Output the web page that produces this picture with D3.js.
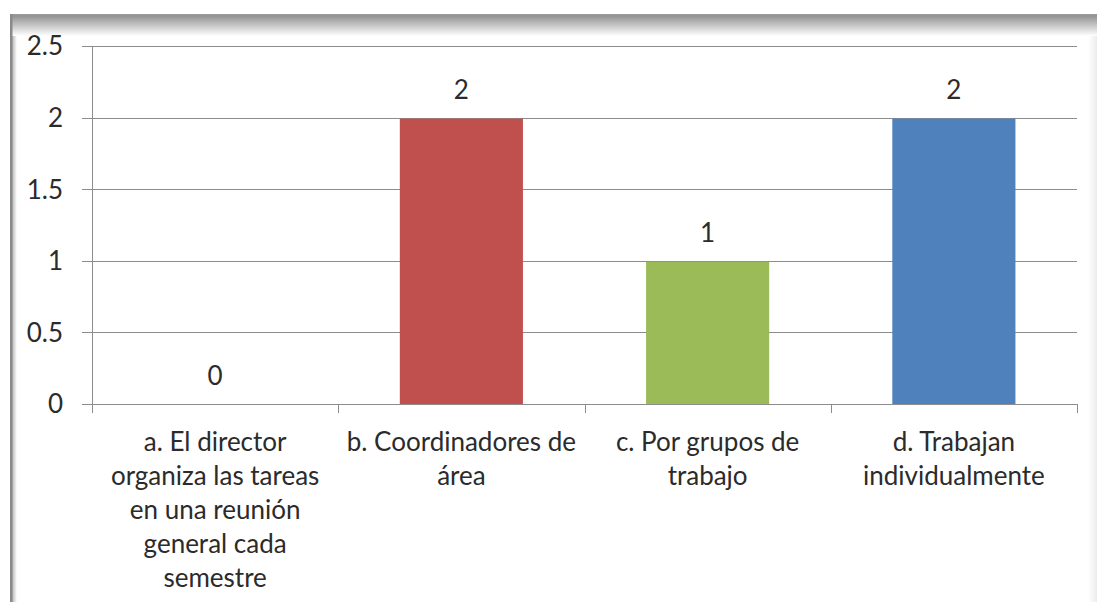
<!DOCTYPE html>
<html><head><meta charset="utf-8">
<script src="https://cdn.jsdelivr.net/npm/d3@7"></script>
<style>
html,body{margin:0;padding:0;background:#fff;}
svg{display:block;}
text{font-family:Lato,"Open Sans",sans-serif;fill:#2b2b2b;}
</style></head>
<body>
<svg id="chart" width="1097" height="602"></svg>
<script>
const categories = [
  "a. El director\norganiza las tareas\nen una reunión\ngeneral cada\nsemestre",
  "b. Coordinadores de\nárea",
  "c. Por grupos de\ntrabajo",
  "d. Trabajan\nindividualmente"
];
const values = [0, 2, 1, 2];
const barColors = ["#4F81BD", "#C0504D", "#9BBB59", "#4F81BD"];
const yTicks = [0, 0.5, 1, 1.5, 2, 2.5];

const svg = d3.select("#chart");
const W = 1097, H = 602;
const fontSize = 26;

// frame decoration
const defs = svg.append("defs");
const gTop = defs.append("linearGradient").attr("id","gTop").attr("x1",0).attr("y1",0).attr("x2",0).attr("y2",1);
gTop.append("stop").attr("offset","0%").attr("stop-color","#8e8e8e");
gTop.append("stop").attr("offset","100%").attr("stop-color","#ffffff");
const gLeft = defs.append("linearGradient").attr("id","gLeft").attr("x1",0).attr("y1",0).attr("x2",1).attr("y2",0);
gLeft.append("stop").attr("offset","0%").attr("stop-color","#b5b5b5");
gLeft.append("stop").attr("offset","100%").attr("stop-color","#ffffff");
const gRight = defs.append("linearGradient").attr("id","gRight").attr("x1",0).attr("y1",0).attr("x2",1).attr("y2",0);
gRight.append("stop").attr("offset","0%").attr("stop-color","#ffffff");
gRight.append("stop").attr("offset","100%").attr("stop-color","#ececec");

svg.append("rect").attr("x",1088).attr("y",14).attr("width",9).attr("height",H-14).attr("fill","url(#gRight)");
svg.append("rect").attr("x",12).attr("y",15).attr("width",5).attr("height",H-15).attr("fill","url(#gLeft)");
svg.append("rect").attr("x",10).attr("y",15).attr("width",W-10).attr("height",21).attr("fill","url(#gTop)");
svg.append("rect").attr("x",10).attr("y",14).attr("width",W-10).attr("height",1.5).attr("fill","#9a9a9a");
svg.append("rect").attr("x",10).attr("y",14).attr("width",2.5).attr("height",H-14).attr("fill","#8a8a8a");

// scales
const x = d3.scaleBand().domain(categories).range([92, 1077]).paddingInner(0.5).paddingOuter(0.25);
const y = d3.scaleLinear().domain([0, 2.5]).range([404, 46]);

// gridlines
svg.append("g").selectAll("line").data(yTicks).join("line")
  .attr("x1", 82).attr("x2", 1077)
  .attr("y1", d => Math.round(y(d)) + 0.5).attr("y2", d => Math.round(y(d)) + 0.5)
  .attr("stroke", "#8c8c8c").attr("stroke-width", 1);

// bars
svg.append("g").selectAll("rect").data(values).join("rect")
  .attr("x", (d,i) => x(categories[i]))
  .attr("width", x.bandwidth())
  .attr("y", d => y(d) + 1)
  .attr("height", d => Math.max(0, y(0) - y(d) - 1))
  .attr("fill", (d,i) => barColors[i]);

// y axis line
svg.append("line").attr("x1", 92.5).attr("x2", 92.5).attr("y1", y(2.5)).attr("y2", y(0) + 9)
  .attr("stroke", "#8c8c8c");

// x axis category ticks
const step = x.step();
const boundaries = d3.range(categories.length + 1).map(i => 92 + i * step);
svg.append("g").selectAll("line").data(boundaries).join("line")
  .attr("x1", d => Math.round(d) + 0.5).attr("x2", d => Math.round(d) + 0.5)
  .attr("y1", y(0)).attr("y2", y(0) + 9)
  .attr("stroke", "#8c8c8c");

// y tick labels
svg.append("g").selectAll("text").data(yTicks).join("text")
  .attr("x", 63).attr("y", d => y(d))
  .attr("dy", "0.36em")
  .attr("text-anchor", "end")
  .attr("font-size", fontSize)
  .text(d => d);

// data labels
svg.append("g").selectAll("text").data(values).join("text")
  .attr("x", (d,i) => x(categories[i]) + x.bandwidth()/2)
  .attr("y", d => y(d) - 28)
  .attr("dy", "0.36em")
  .attr("text-anchor", "middle")
  .attr("font-size", fontSize)
  .text(d => d);

// category labels
const lab = svg.append("g").selectAll("text").data(categories).join("text")
  .attr("text-anchor", "middle")
  .attr("font-size", fontSize)
  .attr("transform", d => `translate(${x(d) + x.bandwidth()/2},${y(0) + 38})`);
lab.each(function(d){
  const t = d3.select(this);
  d.split("\n").forEach((line, i) => {
    t.append("tspan").attr("x", 0).attr("y", i * 34).attr("dy", "0.36em").text(line);
  });
});
</script>
</body></html>
